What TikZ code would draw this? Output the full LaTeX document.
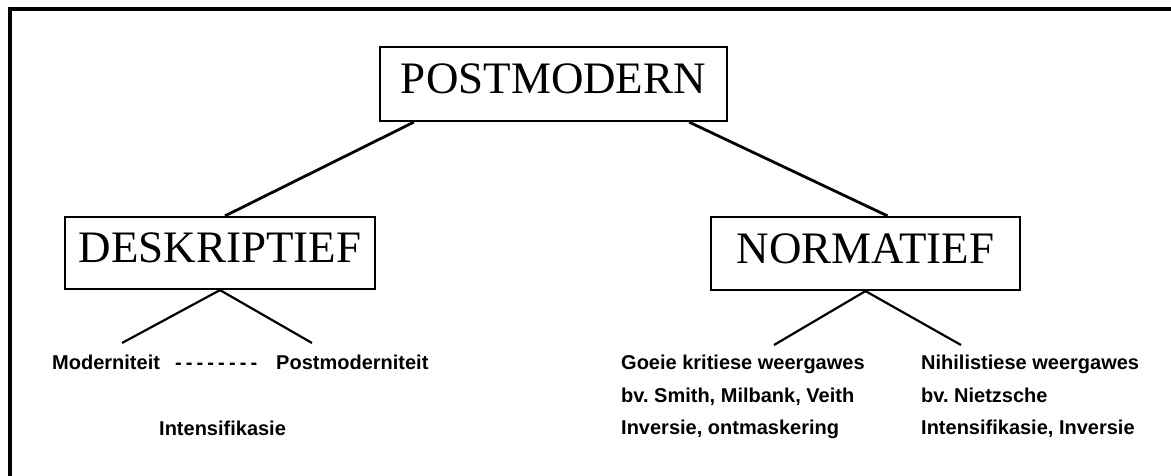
\documentclass[tikz,border=0pt]{standalone}
\usepackage{fontspec}
\setmainfont{Liberation Serif}
\newfontfamily\labfont{Liberation Sans}
\usetikzlibrary{calc}
\newcommand\dashrow{-\kern4.1pt-\kern4.1pt-\kern4.1pt-\kern4.1pt-\kern4.1pt-\kern4.1pt-\kern4.1pt-}
\begin{document}
\frenchspacing
\begin{tikzpicture}[x=1pt,y=-1pt,
  box/.style={draw,line width=2.2pt,rectangle,inner sep=0pt,
    font=\fontsize{45}{50}\selectfont,text depth=10pt},
  lab/.style={inner sep=0pt,anchor=base west,
    font=\labfont\bfseries\fontsize{20}{24}\selectfont},
  conn/.style={line width=2.8pt},
  sub/.style={line width=2.2pt}]
\useasboundingbox (0,0) rectangle (1171,476);
% outer frame (cut by the picture's edges)
\draw[line width=3.5pt] (10,490) -- (10,9) -- (1190,9);
% boxes
\node[box,minimum width=347pt,minimum height=74pt] (post) at (553.5,84) {POSTMODERN};
\node[box,minimum width=310pt,minimum height=72pt] (desk) at (220,253) {DESKRIPTIEF};
\node[box,minimum width=309pt,minimum height=73pt] (norm) at (865.5,253.5) {NORMATIEF};
% labels
\node[lab] (mod) at (52,369) {Moderniteit};
\node[lab] (dsh) at (175,369) {\dashrow};
\node[lab] (pmod) at (276,369) {Postmoderniteit};
\node[lab] (int) at (159,435) {Intensifikasie};
\node[lab] (g1) at (621,369) {Goeie kritiese weergawes};
\node[lab] (g2) at (621,402) {bv. Smith, Milbank, Veith};
\node[lab] (g3) at (621,434.5) {Inversie, ontmaskering};
\node[lab] (n1) at (921,369) {Nihilistiese weergawes};
\node[lab] (n2) at (921,402) {bv. Nietzsche};
\node[lab] (n3) at (921,434.5) {Intensifikasie, Inversie};
% connectors
\draw[conn] ($(post.south west)+(35,0)$) -- ($(desk.north)+(5,0)$);
\draw[conn] ($(post.south east)+(-39,0)$) -- ($(norm.north)+(22,0)$);
\draw[sub] (desk.south) -- ($(mod.base west)+(70,-26)$);
\draw[sub] (desk.south) -- ($(pmod.base west)+(36,-26)$);
\draw[sub] (norm.south) -- ($(g1.base west)+(153,-24)$);
\draw[sub] (norm.south) -- ($(n1.base west)+(40,-24)$);
\end{tikzpicture}
\end{document}
